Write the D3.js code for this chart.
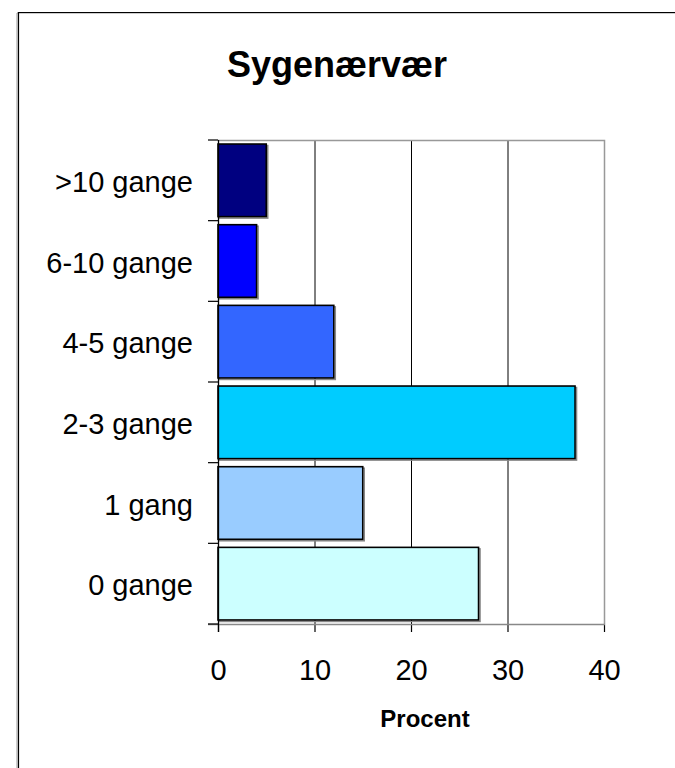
<!DOCTYPE html>
<html>
<head>
<meta charset="utf-8">
<script src="https://cdn.jsdelivr.net/npm/d3@7"></script>
<style>
  body { margin: 0; background: #fff; }
  text { font-family: Arial, "Liberation Sans", sans-serif; fill: #000; }
</style>
</head>
<body>
<svg id="chart" width="675" height="768"></svg>
<script>
// chart data
var categories = [">10 gange", "6-10 gange", "4-5 gange", "2-3 gange", "1 gang", "0 gange"];
var values = [5, 4, 12, 37, 15, 27];
var colors = ["#000080", "#0000ff", "#3366ff", "#00ccff", "#99ccff", "#ccffff"];
var xTicks = [0, 10, 20, 30, 40];
var title = "Sygenærvær";
var xTitle = "Procent";

var svg = d3.select("#chart");

// outer frame (runs off the right and bottom of the window)
svg.append("path")
    .attr("d", "M17,768 V13 H675")
    .attr("fill", "none")
    .attr("stroke", "#999")
    .attr("stroke-width", 1);
svg.append("path")
    .attr("d", "M18.5,768 V12.5 H675")
    .attr("fill", "none")
    .attr("stroke", "#000")
    .attr("stroke-width", 1.2);

var plotLeft = 218, plotRight = 604, plotTop = 140, plotBottom = 624;

var xScale = d3.scaleLinear().domain([0, 40]).range([plotLeft, plotRight]);
var yScale = d3.scaleBand().domain(categories).range([plotTop, plotBottom])
    .paddingInner(0.1).paddingOuter(0.05);

// title
svg.append("text")
    .attr("x", 337)
    .attr("y", 77)
    .attr("text-anchor", "middle")
    .style("font-size", "36px")
    .style("font-weight", "bold")
    .text(title);

// gridlines
svg.append("g")
    .selectAll("line")
    .data(xTicks.slice(1, -1))
    .enter()
    .append("line")
    .attr("x1", function(d) { return xScale(d) + 0.5; })
    .attr("x2", function(d) { return xScale(d) + 0.5; })
    .attr("y1", plotTop)
    .attr("y2", plotBottom)
    .attr("stroke", "#000")
    .attr("stroke-width", 1);

// plot border top and right (grey)
svg.append("path")
    .attr("d", "M" + plotLeft + "," + (plotTop + 0.5) + " H" + (plotRight + 0.5) + " V" + plotBottom)
    .attr("fill", "none")
    .attr("stroke", "#999")
    .attr("stroke-width", 1.5);

// bar shadows
var bars = svg.append("g");
bars.selectAll(".shadow")
    .data(values)
    .enter()
    .append("rect")
    .attr("class", "shadow")
    .attr("x", plotLeft + 1.5)
    .attr("y", function(d, i) { return yScale(categories[i]) + 1.5; })
    .attr("width", function(d) { return xScale(d) - plotLeft; })
    .attr("height", yScale.bandwidth())
    .attr("fill", "none")
    .attr("stroke", "#888")
    .attr("stroke-width", 1.5);

// bars
bars.selectAll(".bar")
    .data(values)
    .enter()
    .append("rect")
    .attr("class", "bar")
    .attr("x", plotLeft)
    .attr("y", function(d, i) { return yScale(categories[i]); })
    .attr("width", function(d) { return xScale(d) - plotLeft; })
    .attr("height", yScale.bandwidth())
    .attr("fill", function(d, i) { return colors[i]; })
    .attr("stroke", "#000")
    .attr("stroke-width", 1.6);

// x axis
var xAxis = svg.append("g")
    .attr("transform", "translate(0," + plotBottom + ")")
    .call(d3.axisBottom(xScale).tickValues(xTicks).tickSize(8).tickPadding(27));
xAxis.select(".domain").remove();
xAxis.selectAll(".tick line").attr("stroke", "#000").attr("stroke-width", 1.2);
xAxis.selectAll("text").style("font-size", "29px");
xAxis.append("line")
    .attr("x1", plotLeft - 10)
    .attr("x2", plotRight + 1)
    .attr("y1", 0.5)
    .attr("y2", 0.5)
    .attr("stroke", "#888")
    .attr("stroke-width", 1.5);

// y axis labels
var yAxis = svg.append("g")
    .attr("transform", "translate(" + plotLeft + ",0)")
    .call(d3.axisLeft(yScale).tickSize(0).tickPadding(25));
yAxis.select(".domain").remove();
yAxis.selectAll("text").style("font-size", "29px").attr("dy", "0.4em");

// y axis line and boundary ticks
var gap = (yScale.step() - yScale.bandwidth()) / 2;
var bounds = categories.map(function(c) { return yScale(c) - gap; });
bounds.push(yScale(categories[categories.length - 1]) + yScale.bandwidth() + gap);
svg.append("line")
    .attr("x1", plotLeft + 0.5)
    .attr("x2", plotLeft + 0.5)
    .attr("y1", plotTop)
    .attr("y2", plotBottom + 8)
    .attr("stroke", "#000")
    .attr("stroke-width", 1.3);
svg.append("g")
    .selectAll("line")
    .data(bounds)
    .enter()
    .append("line")
    .attr("x1", plotLeft - 10)
    .attr("x2", plotLeft)
    .attr("y1", function(d) { return d; })
    .attr("y2", function(d) { return d; })
    .attr("stroke", "#000")
    .attr("stroke-width", 1.2);

// x title
svg.append("text")
    .attr("x", 425)
    .attr("y", 727)
    .attr("text-anchor", "middle")
    .style("font-size", "24px")
    .style("font-weight", "bold")
    .text(xTitle);
</script>
</body>
</html>
